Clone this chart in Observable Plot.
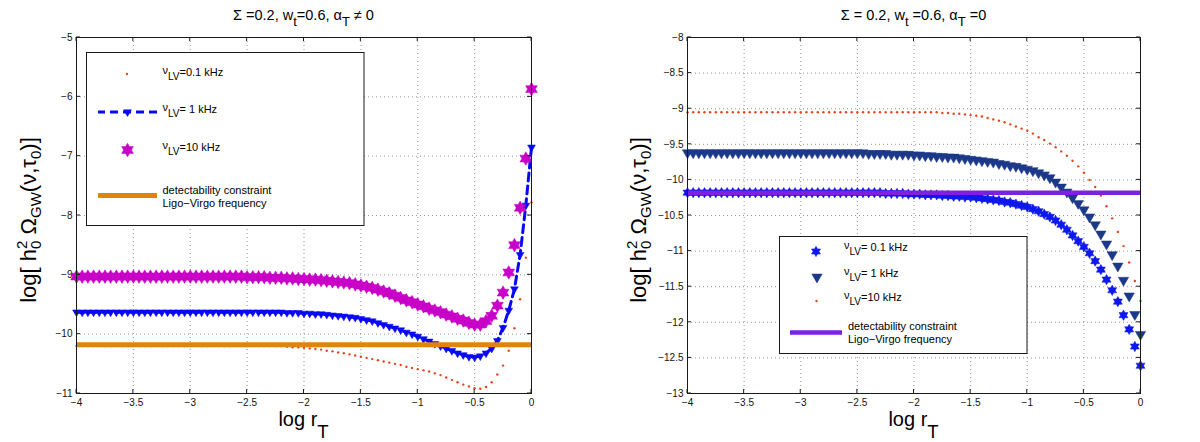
<!DOCTYPE html>
<html>
<head>
<meta charset="utf-8">
<script src="https://cdn.jsdelivr.net/npm/d3@7"></script>
<script src="https://cdn.jsdelivr.net/npm/@observablehq/plot@0.6"></script>
<style>
  html, body { margin: 0; padding: 0; background: #fff; }
  #wrap { position: relative; width: 1200px; height: 442px; overflow: hidden; font-family: "Liberation Sans", Arial, sans-serif; }
  #left, #right { position: absolute; top: 0; }
  #left { left: 0; }
  #right { left: 600px; }
</style>
</head>
<body>
<div id="wrap"><div id="left"></div><div id="right"></div></div>
<script>
// ---------- data ----------
const logR = [
  -4,-3.95,-3.9,-3.85,-3.8,-3.75,-3.7,-3.65,-3.6,-3.55,-3.5,-3.45,-3.4,-3.35,-3.3,-3.25,-3.2,-3.15,-3.1,-3.05,
  -3,-2.95,-2.9,-2.85,-2.8,-2.75,-2.7,-2.65,-2.6,-2.55,-2.5,-2.45,-2.4,-2.35,-2.3,-2.25,-2.2,-2.15,-2.1,-2.05,
  -2,-1.95,-1.9,-1.85,-1.8,-1.75,-1.7,-1.65,-1.6,-1.55,-1.5,-1.45,-1.4,-1.35,-1.3,-1.25,-1.2,-1.15,-1.1,-1.05,
  -1,-0.95,-0.9,-0.85,-0.8,-0.75,-0.7,-0.65,-0.6,-0.55,-0.5,-0.45,-0.4,-0.35,-0.3,-0.25,-0.2,-0.15,-0.1,-0.05,
  0
];

// Left panel: Sigma=0.2, w_t=0.6, alpha_T != 0
const leftNu01 = [
  -10.2,-10.2,-10.2,-10.2,-10.2,-10.2,-10.2,-10.2,-10.2,-10.2,-10.2,-10.2,-10.2,-10.2,-10.2,-10.2,-10.2,-10.2,-10.2,-10.2,
  -10.2,-10.2,-10.2,-10.2,-10.2,-10.2,-10.2,-10.2,-10.2,-10.2,-10.2,-10.2,-10.2,-10.2,-10.2,-10.2,-10.2,-10.21,-10.22,-10.22,
  -10.23,-10.24,-10.25,-10.26,-10.28,-10.29,-10.31,-10.32,-10.34,-10.36,-10.38,-10.40,-10.42,-10.44,-10.46,-10.48,-10.50,-10.52,-10.55,-10.57,
  -10.59,-10.61,-10.63,-10.66,-10.69,-10.73,-10.77,-10.81,-10.85,-10.88,-10.91,-10.92,-10.89,-10.81,-10.68,-10.53,-10.28,-9.90,-9.41,-8.71,
  -7.78
];
const leftNu1 = [
  -9.63,-9.63,-9.63,-9.63,-9.63,-9.63,-9.63,-9.63,-9.63,-9.63,-9.63,-9.63,-9.63,-9.63,-9.63,-9.63,-9.63,-9.63,-9.63,-9.63,
  -9.63,-9.63,-9.63,-9.63,-9.63,-9.63,-9.63,-9.63,-9.63,-9.63,-9.63,-9.63,-9.63,-9.63,-9.63,-9.63,-9.63,-9.64,-9.64,-9.64,
  -9.65,-9.65,-9.66,-9.66,-9.67,-9.68,-9.69,-9.70,-9.71,-9.72,-9.74,-9.76,-9.78,-9.81,-9.84,-9.87,-9.90,-9.93,-9.97,-10.00,
  -10.04,-10.08,-10.12,-10.16,-10.20,-10.24,-10.28,-10.32,-10.35,-10.38,-10.39,-10.37,-10.32,-10.24,-10.11,-9.89,-9.60,-9.24,-8.66,-7.83,
  -6.85
];
const leftNu10 = [
  -9.03,-9.03,-9.03,-9.03,-9.03,-9.03,-9.03,-9.03,-9.03,-9.03,-9.03,-9.03,-9.03,-9.03,-9.03,-9.03,-9.03,-9.03,-9.03,-9.03,
  -9.03,-9.03,-9.03,-9.03,-9.03,-9.03,-9.03,-9.03,-9.03,-9.03,-9.04,-9.04,-9.04,-9.04,-9.05,-9.05,-9.05,-9.06,-9.06,-9.07,
  -9.07,-9.08,-9.08,-9.09,-9.10,-9.11,-9.12,-9.13,-9.14,-9.16,-9.18,-9.20,-9.22,-9.25,-9.28,-9.31,-9.35,-9.39,-9.43,-9.46,
  -9.50,-9.53,-9.57,-9.60,-9.63,-9.67,-9.70,-9.74,-9.77,-9.81,-9.84,-9.84,-9.78,-9.69,-9.52,-9.30,-8.96,-8.50,-7.87,-7.04,
  -5.87
];
const leftConstraint = [-10.18];

// Right panel: Sigma=0.2, w_t=0.6, alpha_T = 0
const rightNu01 = [
  -10.18,-10.18,-10.18,-10.18,-10.18,-10.18,-10.18,-10.18,-10.18,-10.18,-10.18,-10.18,-10.18,-10.18,-10.18,-10.18,-10.18,-10.18,-10.18,-10.18,
  -10.18,-10.18,-10.18,-10.18,-10.18,-10.18,-10.18,-10.18,-10.18,-10.18,-10.18,-10.18,-10.18,-10.18,-10.18,-10.19,-10.19,-10.19,-10.19,-10.20,
  -10.20,-10.20,-10.21,-10.21,-10.21,-10.22,-10.22,-10.23,-10.23,-10.24,-10.24,-10.25,-10.26,-10.27,-10.28,-10.29,-10.31,-10.32,-10.34,-10.36,
  -10.38,-10.41,-10.44,-10.48,-10.52,-10.57,-10.63,-10.70,-10.78,-10.86,-10.94,-11.03,-11.14,-11.26,-11.40,-11.55,-11.71,-11.90,-12.10,-12.34,
  -12.61
];
const rightNu1 = [
  -9.62,-9.62,-9.62,-9.62,-9.62,-9.62,-9.62,-9.62,-9.62,-9.62,-9.62,-9.62,-9.62,-9.62,-9.62,-9.62,-9.62,-9.62,-9.62,-9.62,
  -9.62,-9.62,-9.62,-9.62,-9.62,-9.62,-9.62,-9.62,-9.62,-9.62,-9.62,-9.62,-9.63,-9.63,-9.63,-9.63,-9.64,-9.64,-9.64,-9.64,
  -9.65,-9.65,-9.66,-9.66,-9.67,-9.67,-9.68,-9.68,-9.69,-9.70,-9.71,-9.72,-9.73,-9.74,-9.75,-9.77,-9.78,-9.80,-9.81,-9.83,
  -9.85,-9.87,-9.90,-9.93,-9.97,-10.03,-10.10,-10.17,-10.25,-10.33,-10.42,-10.52,-10.63,-10.76,-10.90,-11.05,-11.21,-11.41,-11.63,-11.89,
  -12.17
];
const rightNu10 = [
  -9.05,-9.05,-9.05,-9.05,-9.05,-9.05,-9.05,-9.05,-9.05,-9.05,-9.05,-9.05,-9.05,-9.05,-9.05,-9.05,-9.05,-9.05,-9.05,-9.05,
  -9.05,-9.05,-9.05,-9.05,-9.05,-9.05,-9.05,-9.05,-9.05,-9.05,-9.05,-9.05,-9.05,-9.05,-9.05,-9.05,-9.05,-9.05,-9.05,-9.05,
  -9.05,-9.05,-9.05,-9.05,-9.05,-9.06,-9.06,-9.07,-9.07,-9.08,-9.09,-9.10,-9.11,-9.13,-9.15,-9.17,-9.19,-9.22,-9.25,-9.28,
  -9.31,-9.35,-9.40,-9.44,-9.49,-9.54,-9.60,-9.66,-9.73,-9.81,-9.90,-10.00,-10.10,-10.22,-10.37,-10.54,-10.73,-10.93,-11.16,-11.42,
  -11.70
];
const rightConstraint = [-10.18];

const xTicks = [-4,-3.5,-3,-2.5,-2,-1.5,-1,-0.5,0];
const leftYTicks = [-11,-10,-9,-8,-7,-6,-5];
const rightYTicks = [-13,-12.5,-12,-11.5,-11,-10.5,-10,-9.5,-9,-8.5,-8];
const leftLegendLabels = ["=0.1 kHz", "= 1 kHz", "=10 kHz"];
const rightLegendLabels = ["= 0.1 kHz", "= 1 kHz", "=10 kHz"];
const constraintLabel = ["detectability constraint", "Ligo\u2212Virgo frequency"];

// ---------- styling ----------
const C = {
  red: "#e4461c", blue: "#0808f6", magenta: "#c800c8", orange: "#e0840f",
  starBlue: "#0c18ee", navy: "#1c3889", purple: "#7a22e0"
};
const FONT = '"Liberation Sans", Arial, Helvetica, sans-serif';

// custom marker shapes (MATLAB-like hexagram and down-pointing triangle)
const hexagram = {
  draw(ctx, size) {
    const R = Math.sqrt(size / Math.PI), r = R / Math.sqrt(3);
    for (let i = 0; i < 12; i++) {
      const a = (i * 30 - 90) * Math.PI / 180, rr = i % 2 === 0 ? R : r;
      const x = rr * Math.cos(a), y = rr * Math.sin(a);
      if (i === 0) ctx.moveTo(x, y); else ctx.lineTo(x, y);
    }
    ctx.closePath();
  }
};
const triDown = {
  draw(ctx, size) {
    const R = Math.sqrt(size / Math.PI);
    ctx.moveTo(0, R);
    ctx.lineTo(-R * 0.866, -R * 0.5);
    ctx.lineTo(R * 0.866, -R * 0.5);
    ctx.closePath();
  }
};

const fmt = d => d === 0 ? "0" : (d < 0 ? "\u2212" : "") + String(Math.abs(d));

function rich(parent, parts, attrs) {
  const t = parent.append("text");
  for (const [k, v] of Object.entries(attrs)) t.attr(k, v);
  for (const p of parts) {
    const s = t.append("tspan").text(p.t);
    if (p.size) s.style("font-size", p.size + "px");
    if (p.dy) s.attr("dy", p.dy);
    if (p.dx) s.attr("dx", p.dx);
  }
  return t;
}

function makePanel(el, cfg) {
  const plot = Plot.plot({
    width: 600, height: 442,
    marginLeft: cfg.ml, marginRight: cfg.mr, marginTop: 37, marginBottom: 49,
    style: { fontFamily: FONT, fontSize: "10px", background: "transparent", overflow: "visible" },
    x: { domain: [-4, 0], label: null },
    y: { domain: cfg.yDomain, label: null },
    marks: [
      Plot.gridX(xTicks, { stroke: "#8a8a8a", strokeOpacity: 0.9, strokeDasharray: "1,3" }),
      Plot.gridY(cfg.yTicks, { stroke: "#8a8a8a", strokeOpacity: 0.9, strokeDasharray: "1,3" }),
      Plot.axisX(xTicks, { anchor: "bottom", tickSize: 0, tickPadding: 5, tickFormat: fmt, label: null, fill: "#111" }),
      Plot.axisY(cfg.yTicks, { anchor: "left", tickSize: 0, tickPadding: 4, tickFormat: fmt, label: null, fill: "#111" }),
      ...cfg.marks,
      Plot.frame({ stroke: "#1a1a1a", strokeWidth: 1 })
    ]
  });
  el.appendChild(plot);
  const svg = d3.select(plot);
  const sx = plot.scale("x"), sy = plot.scale("y");
  const xl = sx.range[0], xr = sx.range[1], yb = sy.range[0], yt = sy.range[1];

  // inward ticks on all four sides
  const tg = svg.append("g").attr("stroke", "#1a1a1a").attr("stroke-width", 1);
  for (const v of xTicks) {
    const px = sx.apply(v);
    tg.append("line").attr("x1", px).attr("x2", px).attr("y1", yb).attr("y2", yb - 4);
    tg.append("line").attr("x1", px).attr("x2", px).attr("y1", yt).attr("y2", yt + 4);
  }
  for (const v of cfg.yTicks) {
    const py = sy.apply(v);
    tg.append("line").attr("x1", xl).attr("x2", xl + 4).attr("y1", py).attr("y2", py);
    tg.append("line").attr("x1", xr).attr("x2", xr - 4).attr("y1", py).attr("y2", py);
  }

  const cx = (xl + xr) / 2;
  const txt = svg.append("g").attr("fill", "#000").style("font-family", FONT);
  // title
  rich(txt, cfg.title, { x: cx, y: 20, "text-anchor": "middle", "font-size": 14.5 });
  // x label
  rich(txt, [{ t: "log r", size: 20 }, { t: "T", size: 18.5, dy: 12 }],
    { x: cx, y: 426, "text-anchor": "middle", "font-size": 20 });
  // y label
  rich(txt, [
    { t: "log[ h", size: 22 },
    { t: "2", size: 15, dy: -9 },
    { t: "0", size: 15, dx: -8.3, dy: 14 },
    { t: " \u03a9", size: 22, dy: -5 },
    { t: "GW", size: 15, dy: 5 },
    { t: "(\u03bd,\u03c4", size: 22, dy: -5 },
    { t: "0", size: 15, dy: 5 },
    { t: ")]", size: 22, dy: -5 }
  ], { transform: `translate(${cfg.ylabX},220) rotate(-90)`, "text-anchor": "middle", "font-size": 22 });

  return { svg, sx, sy };
}

// ---------- left panel ----------
const leftData = logR.map((x, i) => ({ x, a: leftNu01[i], b: leftNu1[i], c: leftNu10[i] }));
const L = makePanel(document.getElementById("left"), {
  ml: 76, mr: 69, yDomain: [-11, -5], yTicks: leftYTicks, ylabX: 36,
  title: [{ t: "\u03a3 =0.2, w" }, { t: "t", dy: 6, size: 13 }, { t: "=0.6, \u03b1", dy: -6, size: 14.5 },
          { t: "T", dy: 6, size: 13 }, { t: " \u2260 0", dy: -6, size: 14.5 }],
  marks: [
    Plot.dot(leftData, { x: "x", y: "a", r: 1.2, fill: C.red, stroke: null }),
    Plot.line(leftData, { x: "x", y: "b", stroke: C.blue, strokeWidth: 3, strokeDasharray: "8,5" }),
    Plot.dot(leftData, { x: "x", y: "b", r: 4.5, symbol: triDown, fill: C.blue, stroke: C.blue, strokeWidth: 0.5 }),
    Plot.dot(leftData, { x: "x", y: "c", r: 6.8, symbol: hexagram, fill: C.magenta, stroke: C.magenta, strokeWidth: 0.5 }),
    Plot.ruleY(leftConstraint, { stroke: C.orange, strokeWidth: 5 })
  ]
});

// ---------- right panel ----------
const rightData = logR.map((x, i) => ({ x, a: rightNu01[i], b: rightNu1[i], c: rightNu10[i] }));
const R = makePanel(document.getElementById("right"), {
  ml: 87, mr: 60, yDomain: [-13, -8], yTicks: rightYTicks, ylabX: 46,
  title: [{ t: "\u03a3 = 0.2, w" }, { t: "t", dy: 6, size: 13 }, { t: " =0.6, \u03b1", dy: -6, size: 14.5 },
          { t: "T", dy: 6, size: 13 }, { t: " =0", dy: -6, size: 14.5 }],
  marks: [
    Plot.dot(rightData, { x: "x", y: "a", r: 5.2, symbol: hexagram, fill: C.starBlue, stroke: C.starBlue, strokeWidth: 0.5 }),
    Plot.dot(rightData, { x: "x", y: "b", r: 6, symbol: triDown, fill: C.navy, stroke: C.navy, strokeWidth: 0.5 }),
    Plot.dot(rightData, { x: "x", y: "c", r: 1.2, fill: C.red, stroke: null }),
    Plot.ruleY(rightConstraint, { stroke: C.purple, strokeWidth: 4.5 })
  ]
});

// ---------- legends ----------
function nuLabel(g, x, y, rest) {
  rich(g, [{ t: "\u03bd", size: 11, dy: -2 }, { t: "LV", size: 10, dy: 6 }, { t: rest, size: 11, dy: -4 }],
    { x, y, "font-size": 11, "text-anchor": "start" });
}
function sym(g, type, r, x, y, color) {
  g.append("path").attr("d", d3.symbol(type, r * r * Math.PI)()).attr("transform", `translate(${x},${y})`)
    .attr("fill", color).attr("stroke", color).attr("stroke-width", 0.5);
}
{
  const g = L.svg.append("g").style("font-family", FONT).attr("fill", "#000").attr("text-anchor", "start");
  g.append("rect").attr("x", 86.5).attr("y", 52.5).attr("width", 277.5).attr("height", 173).attr("fill", "#fff").attr("stroke", "#1a1a1a");
  g.append("circle").attr("cx", 127).attr("cy", 74).attr("r", 1.2).attr("fill", C.red);
  nuLabel(g, 162.5, 76, leftLegendLabels[0]);
  g.append("line").attr("x1", 98).attr("x2", 157).attr("y1", 112).attr("y2", 112).attr("stroke", C.blue).attr("stroke-width", 3).attr("stroke-dasharray", "8,5").attr("stroke-dashoffset", 1);
  sym(g, triDown, 4.5, 127.5, 112, C.blue);
  nuLabel(g, 162.5, 113, leftLegendLabels[1]);
  sym(g, hexagram, 6.8, 127.5, 150, C.magenta);
  nuLabel(g, 162.5, 151, leftLegendLabels[2]);
  g.append("line").attr("x1", 98).attr("x2", 157).attr("y1", 195.5).attr("y2", 195.5).attr("stroke", C.orange).attr("stroke-width", 5);
  g.append("text").attr("x", 162.5).attr("y", 193.5).attr("font-size", 11).attr("text-anchor", "start").text(constraintLabel[0]);
  g.append("text").attr("x", 162.5).attr("y", 206.5).attr("font-size", 11).attr("text-anchor", "start").text(constraintLabel[1]);
}
{
  const g = R.svg.append("g").style("font-family", FONT).attr("fill", "#000").attr("text-anchor", "start");
  g.append("rect").attr("x", 179.5).attr("y", 236.5).attr("width", 247.5).attr("height", 117).attr("fill", "#fff").attr("stroke", "#1a1a1a");
  sym(g, hexagram, 5.2, 216, 251.5, C.starBlue);
  nuLabel(g, 244, 251, rightLegendLabels[0]);
  sym(g, triDown, 6, 217, 277, C.navy);
  nuLabel(g, 244, 276.5, rightLegendLabels[1]);
  g.append("circle").attr("cx", 216.5).attr("cy", 301).attr("r", 1.2).attr("fill", C.red);
  nuLabel(g, 244, 301, rightLegendLabels[2]);
  g.append("line").attr("x1", 190).attr("x2", 242).attr("y1", 332.5).attr("y2", 332.5).attr("stroke", C.purple).attr("stroke-width", 4.5);
  g.append("text").attr("x", 248).attr("y", 330).attr("font-size", 11).attr("text-anchor", "start").text(constraintLabel[0]);
  g.append("text").attr("x", 248).attr("y", 342.5).attr("font-size", 11).attr("text-anchor", "start").text(constraintLabel[1]);
}
</script>
</body>
</html>
